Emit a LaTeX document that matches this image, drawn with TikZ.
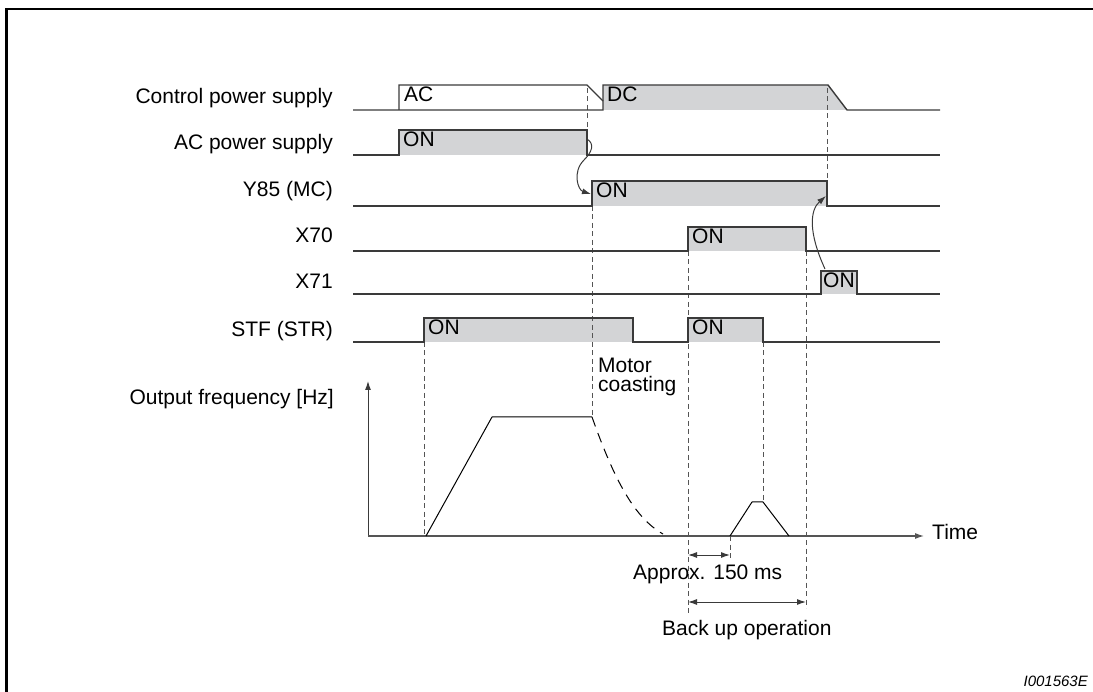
\documentclass[tikz,border=0pt]{standalone}
\usepackage{fontspec}
\setmainfont{Liberation Sans}
\usetikzlibrary{arrows.meta}
\definecolor{sigcol}{HTML}{3A3A3A}
\definecolor{boxfill}{HTML}{D3D4D6}
\definecolor{dashcol}{HTML}{555555}
\begin{document}
\begin{tikzpicture}[x=1pt,y=-1pt,
  sig/.style={draw=sigcol,line width=1.4pt,line join=miter},
  boxbg/.style={fill=boxfill,draw=none},
  guide/.style={draw=dashcol,line width=0.9pt,dash pattern=on 5pt off 3.5pt},
  lbl/.style={anchor=base east,inner sep=0pt,font=\fontsize{21}{25}\selectfont},
  intext/.style={anchor=base west,inner sep=0pt,font=\fontsize{21}{25}\selectfont},
  freq/.style={draw=black,line width=1pt},
  tip/.style={-{Latex[length=9pt,width=6pt]}},
  dbl/.style={{Latex[length=9pt,width=6pt]}-{Latex[length=9pt,width=6pt]},draw=sigcol,line width=1pt},
]
\useasboundingbox (0,0) rectangle (1093,692);
% frame
\draw[line width=2.5pt] (1100,9) -- (6.5,9) -- (6.5,700);

% fills
\fill[boxfill] (603,110) -- (603,85) -- (828,85) -- (847,110) -- cycle;
\fill[boxfill] (399,130) rectangle (587,155);
\fill[boxfill] (592,181) rectangle (827,206);
\fill[boxfill] (688,227) rectangle (806,251);
\fill[boxfill] (821,271) rectangle (857,294);
\fill[boxfill] (424,318) rectangle (633,342);
\fill[boxfill] (688,318) rectangle (763,342);

% dashed guides
\draw[guide] (587,88) -- (587,130);
\draw[guide] (592,206) -- (592,417);
\draw[guide] (827,88) -- (827,181);
\draw[guide] (688,251) -- (688,614);
\draw[guide] (806,251) -- (806,608);
\draw[guide] (424,342) -- (424,536);
\draw[guide] (763,342) -- (763,502);
\draw[guide] (730,536) -- (730,561);

% signals
\draw[sig] (353,110) -- (603,110) -- (603,85) -- (828,85) -- (847,110) -- (940,110);
\draw[sig] (399,110) -- (399,85) -- (587,85) -- (603,101);
\draw[sig] (353,155) -- (399,155) -- (399,130) -- (587,130) -- (587,155) -- (940,155);
\draw[sig] (353,206) -- (592,206) -- (592,181) -- (827,181) -- (827,206) -- (940,206);
\draw[sig] (353,251) -- (688,251) -- (688,227) -- (806,227) -- (806,251) -- (940,251);
\draw[sig] (353,294) -- (821,294) -- (821,271) -- (857,271) -- (857,294) -- (940,294);
\draw[sig] (353,342) -- (424,342) -- (424,318) -- (633,318) -- (633,342) -- (688,342) -- (688,318) -- (763,318) -- (763,342) -- (940,342);

% causal arrows
\coordinate (acoff) at (587,139);
\coordinate (ymcon) at (591,194);
\coordinate (x71on) at (825,269);
\coordinate (ymcoff) at (826,196);
\draw[sigcol,line width=1pt,tip] (acoff) .. controls (595,144) and (592,152) .. (584,160) .. controls (572,172) and (578,190) .. (ymcon);
\draw[sigcol,line width=1pt,tip] (x71on) .. controls (808,232) and (810,210) .. (ymcoff);

% axes
\coordinate (orig) at (368,536);
\coordinate (ytop) at (368,381);
\coordinate (xend) at (924,536);
\draw[draw=sigcol,line width=1pt,tip] (orig) -- (ytop);
\draw[draw=dashcol,line width=1.2pt,tip] (orig) -- (xend);

% frequency
\draw[freq,line join=round] (426,536) -- (492,417) -- (592,417);
\draw[freq,dash pattern=on 10pt off 7pt] (592,417) .. controls (615,482) and (635,518) .. (663,534);
\draw[freq,line join=round] (730,536) -- (752,502) -- (763,502) -- (789,536);

% dimension arrows
\coordinate (d1a) at (688,555); \coordinate (d1b) at (730,555);
\coordinate (d2a) at (688,602); \coordinate (d2b) at (806,602);
\draw[dbl] (d1a) -- (d1b);
\draw[dbl] (d2a) -- (d2b);

% labels
\node[lbl] (l1) at (333,104) {Control power supply};
\node[lbl] (l2) at (333,150) {AC power supply};
\node[lbl] (l3) at (333,197) {Y85 (MC)};
\node[lbl] (l4) at (333,243) {X70};
\node[lbl] (l5) at (333,289) {X71};
\node[lbl] (l6) at (333,337) {STF (STR)};
\node[lbl] (l7) at (334,405) {Output frequency [Hz]};

% inner texts
\node[intext] (tac) at (404,102) {AC};
\node[intext] (tdc) at (607,102) {DC};
\node[intext] (ton1) at (403,147) {ON};
\node[intext] (ton2) at (596,198) {ON};
\node[intext] (ton3) at (692,244) {ON};
\node[intext] (ton4) at (823,288) {ON};
\node[intext] (ton5) at (428,335) {ON};
\node[intext] (ton6) at (692,335) {ON};

\node[intext] (mot1) at (598,373) {Motor};
\node[intext] (mot2) at (598,392) {coasting};
\node[intext] (time) at (932,539) {Time};
\node[intext] (appr) at (633,579) {Approx. 150 ms};
\node[intext] (back) at (662,635) {Back up operation};
\node[anchor=base east,inner sep=0pt,font=\fontsize{15}{18}\selectfont\itshape] (code) at (1088,686) {I001563E};
\end{tikzpicture}
\end{document}
